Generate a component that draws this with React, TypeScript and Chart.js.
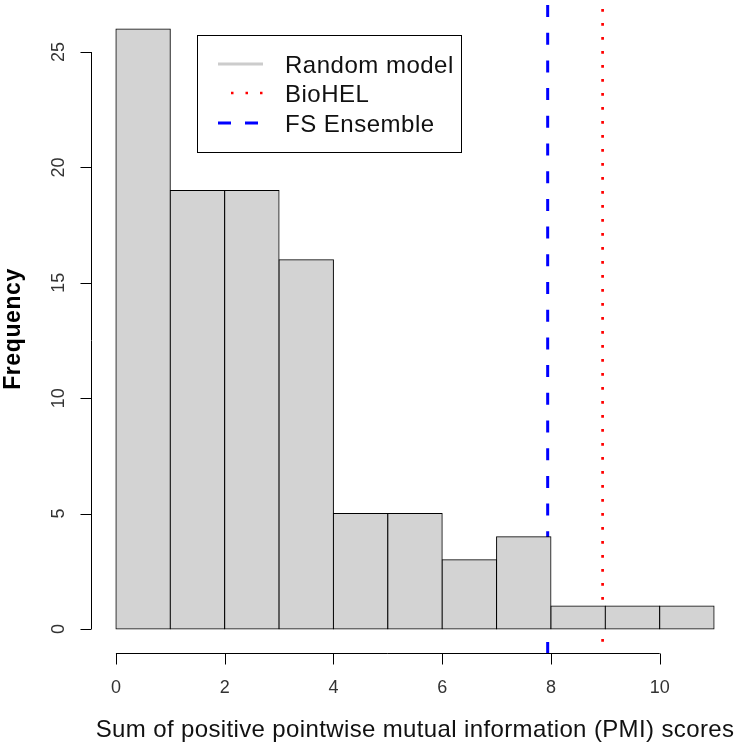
import React, { useEffect, useRef } from "react";
import { Chart, registerables } from "chart.js";

Chart.register(...registerables);

// ---- data ----
const binStarts = [0, 1, 2, 3, 4, 5, 6, 7, 8, 9, 10];
const binWidth = 1;
const frequencies = [26, 19, 19, 16, 5, 5, 3, 4, 1, 1, 1];
const xTicks = [0, 2, 4, 6, 8, 10];
const yTicks = [0, 5, 10, 15, 20, 25];
const bioHelScore = 8.95;
const fsEnsembleScore = 7.94;
const legendLabels = ["Random model", "BioHEL", "FS Ensemble"];
const xTitle = "Sum of positive pointwise mutual information (PMI) scores";
const yTitle = "Frequency";

// R-style 4% axis expansion
const xLo = binStarts[0];
const xHi = binStarts[binStarts.length - 1] + binWidth;
const yHi = Math.max(...frequencies);
const xMin = xLo - 0.04 * (xHi - xLo);
const xMax = xHi + 0.04 * (xHi - xLo);
const yMin = -0.04 * yHi;
const yMax = yHi + 0.04 * yHi;

const FONT = "'Liberation Sans', Arial, Helvetica, sans-serif";

function spacing(ctx: any, px: number) {
  if ("letterSpacing" in ctx) ctx.letterSpacing = `${px}px`;
}

const decorPlugin = {
  id: "rDecor",
  afterDraw(chart: any) {
    const ctx: CanvasRenderingContext2D = chart.ctx;
    const xs = chart.scales.x;
    const ys = chart.scales.y;
    const area = chart.chartArea;
    ctx.save();
    ctx.strokeStyle = "#000";
    ctx.fillStyle = "#000";
    ctx.lineWidth = 1;

    // x axis
    const axY = Math.round(area.bottom) + 0.5;
    const x0 = xs.getPixelForValue(xTicks[0]);
    const x1 = xs.getPixelForValue(xTicks[xTicks.length - 1]);
    ctx.beginPath();
    ctx.moveTo(x0, axY);
    ctx.lineTo(x1, axY);
    xTicks.forEach((t) => {
      const px = Math.round(xs.getPixelForValue(t)) + 0.5;
      ctx.moveTo(px, axY);
      ctx.lineTo(px, axY + 11);
    });
    ctx.stroke();
    ctx.font = `18px ${FONT}`;
    ctx.textAlign = "center";
    ctx.textBaseline = "alphabetic";
    ctx.fillStyle = "#333";
    xTicks.forEach((t) => {
      ctx.fillText(String(t), xs.getPixelForValue(t), 693);
    });

    // y axis
    const axX = Math.round(area.left) - 0.5;
    const y0 = ys.getPixelForValue(yTicks[0]);
    const y1 = ys.getPixelForValue(yTicks[yTicks.length - 1]);
    ctx.beginPath();
    ctx.moveTo(axX, y0);
    ctx.lineTo(axX, y1);
    yTicks.forEach((t) => {
      const py = Math.round(ys.getPixelForValue(t)) + 0.5;
      ctx.moveTo(axX, py);
      ctx.lineTo(axX - 11, py);
    });
    ctx.stroke();
    yTicks.forEach((t) => {
      ctx.save();
      ctx.translate(64, ys.getPixelForValue(t));
      ctx.rotate(-Math.PI / 2);
      ctx.fillText(String(t), 0, 0);
      ctx.restore();
    });

    // titles
    ctx.fillStyle = "#111";
    ctx.font = `24px ${FONT}`;
    spacing(ctx, 0.37);
    ctx.fillText(xTitle, (area.left + area.right) / 2, 737);
    ctx.save();
    ctx.translate(20, (area.top + area.bottom) / 2);
    ctx.rotate(-Math.PI / 2);
    ctx.font = `bold 23px ${FONT}`;
    spacing(ctx, 0.6);
    ctx.fillStyle = "#000";
    ctx.fillText(yTitle, 0, 0);
    ctx.restore();
    spacing(ctx, 0);

    // legend
    const bx = 197, by = 35, bw = 264, bh = 117;
    ctx.fillStyle = "#fff";
    ctx.fillRect(bx, by, bw, bh);
    ctx.strokeStyle = "#000";
    ctx.lineWidth = 1;
    ctx.strokeRect(bx + 0.5, by + 0.5, bw, bh);

    const rows = [
      { label: legendLabels[0], color: "#cccccc", dash: [] as number[], y: 64, from: 218, to: 263, w: 3 },
      { label: legendLabels[1], color: "#ff0000", dash: [2.5, 12], y: 93, from: 231, to: 263, w: 2.5 },
      { label: legendLabels[2], color: "#0000ff", dash: [13, 14], y: 123, from: 218, to: 259, w: 3 },
    ];
    rows.forEach((r, i) => {
      ctx.save();
      ctx.strokeStyle = r.color;
      ctx.lineWidth = r.w;
      ctx.setLineDash(r.dash);
      ctx.beginPath();
      ctx.moveTo(r.from, r.y);
      ctx.lineTo(r.to, r.y);
      ctx.stroke();
      ctx.restore();
      ctx.fillStyle = "#111";
      ctx.font = `24px ${FONT}`;
      ctx.textAlign = "left";
      spacing(ctx, 0.5);
      ctx.fillText(r.label, 285, [73, 102, 132][i]);
      spacing(ctx, 0);
    });
    ctx.restore();
  },
};

export default function App() {
  const ref = useRef<HTMLCanvasElement | null>(null);
  useEffect(() => {
    if (!ref.current) return;
    const chart = new Chart(ref.current, {
      type: "bar",
      data: {
        datasets: [
          {
            type: "bar",
            label: "Random model",
            data: binStarts.map((s, i) => ({ x: s + binWidth / 2, y: frequencies[i] })),
            backgroundColor: "#d3d3d3",
            borderColor: "#000",
            borderWidth: 1,
            borderSkipped: false,
            inflateAmount: 0.5,
            barPercentage: 1,
            categoryPercentage: 1,
          } as any,
          {
            type: "line",
            label: "FS Ensemble",
            data: [
              { x: fsEnsembleScore, y: yMax },
              { x: fsEnsembleScore, y: yMin },
            ],
            borderColor: "#0000ff",
            borderWidth: 3,
            borderDash: [12, 15.7],
            pointRadius: 0,
            fill: false,
          } as any,
          {
            type: "line",
            label: "BioHEL",
            data: [
              { x: bioHelScore, y: yMax },
              { x: bioHelScore, y: yMin },
            ],
            borderColor: "#ff0000",
            borderWidth: 2.7,
            borderDash: [2.7, 11.3],
            borderDashOffset: 10,
            pointRadius: 0,
            fill: false,
          } as any,
        ],
      },
      options: {
        animation: false,
        responsive: false,
        devicePixelRatio: 1,
        layout: { padding: { left: 92, right: 0, top: 5, bottom: 96 } },
        scales: {
          x: { type: "linear", min: xMin, max: xMax, offset: false, display: false },
          y: { type: "linear", min: yMin, max: yMax, display: false },
        },
        plugins: { legend: { display: false }, tooltip: { enabled: false } },
      },
      plugins: [decorPlugin],
    });
    return () => chart.destroy();
  }, []);
  return (
    <div style={{ position: "fixed", left: 0, top: 0, width: 738, height: 749, background: "#fff" }}>
      <canvas ref={ref} width={738} height={749} />
    </div>
  );
}
